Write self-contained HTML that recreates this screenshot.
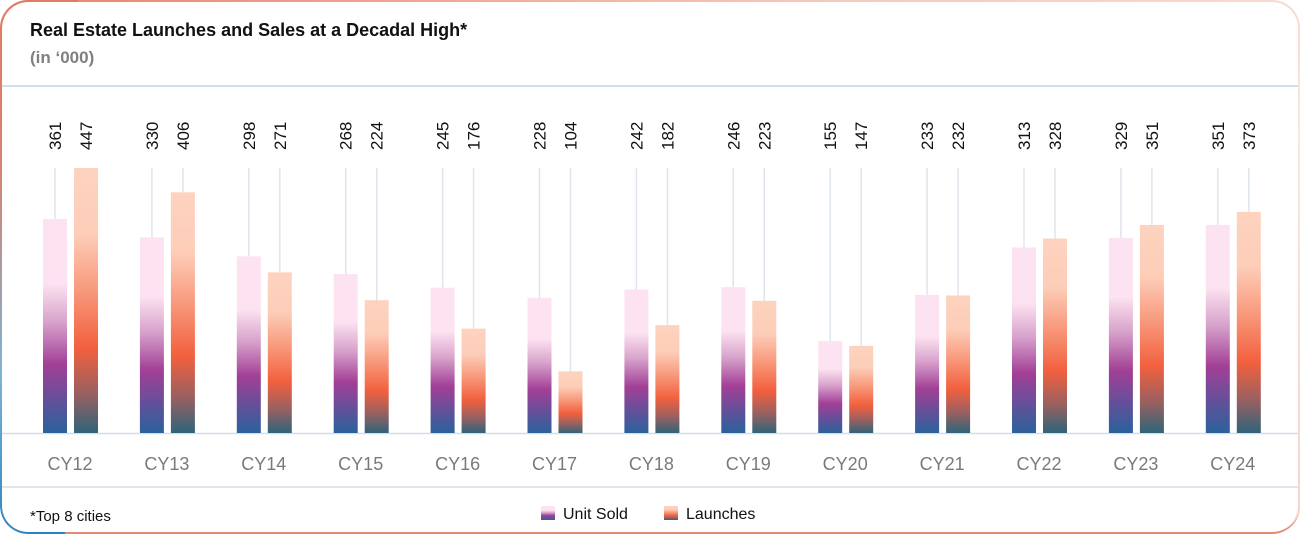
<!DOCTYPE html>
<html><head><meta charset="utf-8">
<style>
html,body{margin:0;padding:0;background:#fff;}
body{width:1300px;height:534px;position:relative;overflow:hidden;font-family:"Liberation Sans",sans-serif;}
.card{position:absolute;left:0;top:0;width:1300px;height:534px;box-sizing:border-box;border-radius:28px;
background:linear-gradient(#fff,#fff) padding-box,linear-gradient(160deg,#e8826a 0%,#f7c9bb 30%,#fbe6e0 60%,#f5d5cc 100%) border-box;border:2px solid transparent;}
.card:before{content:"";position:absolute;left:-2px;top:-2px;right:-2px;bottom:-2px;border-radius:28px;padding:2px;
background:linear-gradient(180deg,#e07a64 0%,#d9816e 30%,#7fb3d4 70%,#2a86c0 100%);
-webkit-mask:linear-gradient(#000 0 0) content-box,linear-gradient(#000 0 0);-webkit-mask-composite:xor;mask-composite:exclude;
clip-path:inset(0 94% 0 0);}
.card:after{content:"";position:absolute;left:-2px;right:-2px;bottom:-2px;height:30px;border-radius:0 0 28px 28px;border-bottom:2px solid #e48a74;
clip-path:inset(0 0 0 5%);}
svg{position:absolute;left:0;top:0;}
</style></head><body>
<div class="card"></div>
<svg id="chart" width="1300" height="534">
<defs>
<linearGradient id="gU" x1="0" y1="0" x2="0" y2="1">
<stop offset="0" stop-color="#fde3f1"/><stop offset="0.3" stop-color="#fde3f1"/><stop offset="0.48" stop-color="#d8a3cc"/><stop offset="0.68" stop-color="#a23f96"/><stop offset="0.85" stop-color="#62509a"/><stop offset="1" stop-color="#2a629c"/>
</linearGradient>
<linearGradient id="gL" x1="0" y1="0" x2="0" y2="1">
<stop offset="0" stop-color="#fdd3bf"/><stop offset="0.25" stop-color="#fdcdb8"/><stop offset="0.45" stop-color="#f89c7f"/><stop offset="0.68" stop-color="#f2603e"/><stop offset="0.85" stop-color="#9a6060"/><stop offset="1" stop-color="#2e6479"/>
</linearGradient>
</defs>
<text x="30" y="36" font-size="18" font-weight="bold" fill="#111">Real Estate Launches and Sales at a Decadal High*</text>
<text x="30" y="63" font-size="17" font-weight="bold" fill="#808080">(in ‘000)</text>
<line x1="2" y1="86" x2="1298" y2="86" stroke="#c5d5e2" stroke-width="1.5"/>
<line x1="2" y1="433.5" x2="1298" y2="433.5" stroke="#d5dde8" stroke-width="1.5"/>
<line x1="2" y1="487" x2="1298" y2="487" stroke="#d5dde8" stroke-width="1.5"/>
<g id="bars"></g>
<text x="30" y="521" font-size="15" fill="#111">*Top 8 cities</text>
<rect x="541" y="506" width="14" height="14" fill="url(#gU)"/>
<text x="563" y="519" font-size="16" fill="#111">Unit Sold</text>
<rect x="664" y="506" width="14" height="14" fill="url(#gL)"/>
<text x="686" y="519" font-size="16" fill="#111">Launches</text>
</svg>
<script>
const categories=["CY12","CY13","CY14","CY15","CY16","CY17","CY18","CY19","CY20","CY21","CY22","CY23","CY24"];
const unitSold=[361,330,298,268,245,228,242,246,155,233,313,329,351];
const launches=[447,406,271,224,176,104,182,223,147,232,328,351,373];
const NS="http://www.w3.org/2000/svg";
const g=document.getElementById("bars");
const baseY=433, topY=168, maxV=447;
function yScale(v){return baseY-(v/maxV)*(baseY-topY);}
function xCenter(i){return 70+i*96.9;}
function mk(tag,attrs){const e=document.createElementNS(NS,tag);for(const k in attrs)e.setAttribute(k,attrs[k]);g.appendChild(e);return e;}
categories.forEach((c,i)=>{
  const cx=xCenter(i);
  [[unitSold[i],-15,"url(#gU)","unit-sold"],[launches[i],16,"url(#gL)","launches"]].forEach(([v,off,fill,nm])=>{
    const bx=cx+off;
    const ln=mk("line",{x1:bx,y1:topY,x2:bx,y2:yScale(v),stroke:"#dfe5ec","stroke-width":1.5});
    
    
    const r=mk("rect",{x:bx-12,y:yScale(v),width:24,height:baseY-yScale(v),fill:fill});
    
    
    const t=mk("text",{x:0,y:0,"font-size":17,fill:"#111","text-anchor":"start",transform:"translate("+(bx+6)+",150) rotate(-90)"});
    t.textContent=v;
    
    
  });
  const lb=mk("text",{x:cx,y:470,"font-size":18,fill:"#7a7a7a","text-anchor":"middle"});
  lb.textContent=c;
  
  
});
</script>
</body></html>
